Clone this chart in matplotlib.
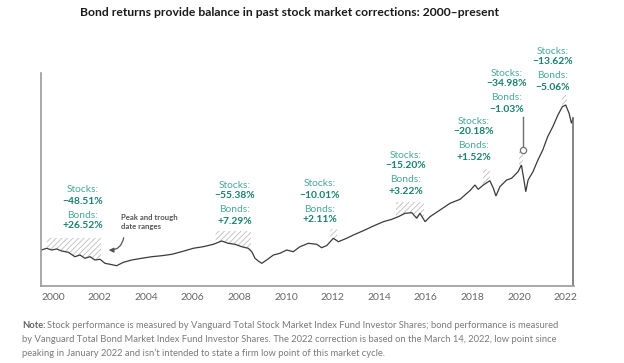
import matplotlib
matplotlib.use("Agg")
import matplotlib.pyplot as plt
import numpy as np

plt.rcParams['font.family'] = ['Lato', 'DejaVu Sans']
plt.rcParams['hatch.linewidth'] = 0.6

# ---- data (index level, arbitrary units) ----
years = [1999.50, 1999.73, 1999.94, 2000.16, 2000.37, 2000.66, 2000.94, 2001.16, 2001.37, 2001.59,
         2001.80, 2002.02, 2002.23, 2002.45, 2002.73, 2003.02, 2003.38, 2003.80, 2004.24, 2004.67,
         2005.10, 2005.52, 2006.02, 2006.45, 2006.88, 2007.24, 2007.52, 2007.81, 2008.10, 2008.38,
         2008.53, 2008.67, 2008.81, 2008.96, 2009.17, 2009.46, 2009.74, 2010.03, 2010.31, 2010.60,
         2010.96, 2011.32, 2011.53, 2011.75, 2012.03, 2012.25, 2012.60, 2012.89, 2013.32, 2013.75,
         2014.18, 2014.54, 2014.82, 2015.11, 2015.40, 2015.61, 2015.75, 2015.97, 2016.18, 2016.61,
         2017.04, 2017.47, 2017.90, 2018.11, 2018.25, 2018.47, 2018.75, 2018.90, 2019.01, 2019.18,
         2019.47, 2019.68, 2019.96, 2020.10, 2020.20, 2020.29, 2020.39, 2020.60, 2020.81, 2021.02,
         2021.23, 2021.45, 2021.67, 2021.86, 2022.00, 2022.15, 2022.25, 2022.32]
stock_index = [36.0, 37.7, 36.0, 37.0, 35.0, 33.7, 29.3, 31.0, 27.7, 29.3,
               26.0, 26.7, 22.7, 21.7, 20.3, 23.7, 26.0, 27.7, 29.3, 30.3,
               31.7, 34.3, 37.7, 39.3, 41.7, 45.0, 42.7, 41.7, 39.3, 37.7,
               34.3, 27.7, 25.0, 22.7, 26.0, 31.0, 32.7, 36.0, 34.3, 39.3,
               42.7, 41.7, 38.3, 40.5, 47.7, 44.3, 47.7, 51.0, 55.3, 60.0,
               64.3, 66.7, 69.3, 72.7, 73.3, 67.7, 72.7, 64.3, 69.3, 76.0,
               82.7, 86.7, 95.5, 101.0, 96.7, 101.0, 105.3, 97.7, 90.0, 99.3,
               106.0, 107.7, 114.3, 121.0, 107.7, 94.3, 106.0, 114.3, 126.0, 136.0,
               149.3, 159.3, 171.0, 179.3, 181.0, 172.7, 162.7, 167.7]

corr_start = [1999.74, 2006.98, 2011.90, 2014.72, 2018.45, 2020.00, 2021.85]
corr_end = [2002.06, 2008.50, 2012.20, 2015.92, 2018.75, 2020.17, 2022.06]
corr_top = [48, 55, 57, 84, 117, 134, 191]
stocks_ret = ["\u221248.51%", "\u221255.38%", "\u221210.01%", "\u221215.20%", "\u221220.18%", "\u221234.98%", "\u221213.62%"]
bonds_ret = ["+26.52%", "+7.29%", "+2.11%", "+3.22%", "+1.52%", "\u22121.03%", "\u22125.06%"]
label_x = [2001.29, 2007.81, 2011.46, 2015.15, 2018.07, 2019.48, 2021.46]
label_top = [96, 101, 102, 131, 165, 213, 235]

tick_years = list(range(2000, 2023, 2))

# ---- figure ----
W, H = 624, 363
fig = plt.figure(figsize=(W / 100, H / 100), dpi=100)
ax = fig.add_axes([41 / W, (H - 286) / H, (574 - 41) / W, (286 - 73) / H])
ax.set_xlim(1999.485, 2022.36)
ax.set_ylim(0, 213)

yrs = np.array(years)
vals = np.array(stock_index)

# hatched correction ranges
for s, e, t in zip(corr_start, corr_end, corr_top):
    xs = np.linspace(s, e, 60)
    ys = np.interp(xs, yrs, vals)
    ax.fill_between(xs, ys, t, facecolor='none', edgecolor='#bdbdbd', hatch='//////', linewidth=0)

ax.plot(yrs, vals, color='#3a3a3a', lw=0.9, solid_joinstyle='miter')

# right end vertical line
ax.plot([yrs[-1], yrs[-1]], [0, vals[-1]], color='#707070', lw=1.2)

# spines
for sp in ['top', 'right']:
    ax.spines[sp].set_visible(False)
for sp in ['left', 'bottom']:
    ax.spines[sp].set_color('#9a9a9a')
    ax.spines[sp].set_linewidth(1.2)
ax.set_yticks([])
ax.set_xticks(tick_years)
ax.set_xticklabels([str(y) for y in tick_years])
ax.tick_params(axis='x', length=0, pad=5, labelsize=7.5, labelcolor='#666666')

lab_c = '#4aa89c'
val_c = '#18806f'
for x, top, sr, br in zip(label_x, label_top, stocks_ret, bonds_ret):
    ax.text(x, top, "Stocks:", ha='center', va='center', fontsize=7.4, color=lab_c, clip_on=False)
    ax.text(x, top - 11, sr, ha='center', va='center', fontsize=7.4, color=val_c, fontweight='bold', clip_on=False)
    ax.text(x, top - 25, "Bonds:", ha='center', va='center', fontsize=7.4, color=lab_c, clip_on=False)
    ax.text(x, top - 36, br, ha='center', va='center', fontsize=7.4, color=val_c, fontweight='bold', clip_on=False)

# 2020 callout line with circle
ax.plot([2020.17, 2020.17], [136, 169], color='#707070', lw=1.0)
ax.plot([2020.17], [136], marker='o', ms=4.5, mfc='white', mec='#707070', mew=0.9)

# peak and trough note
ax.text(2002.92, 64, "Peak and trough\ndate ranges", ha='left', va='center', fontsize=5.6,
        color='#555555', fontweight='bold', linespacing=1.3)
ax.annotate("", xy=(2002.27, 36), xytext=(2003.05, 51),
            arrowprops=dict(arrowstyle='-|>', color='#555555', lw=0.9,
                            connectionstyle='arc3,rad=-0.5', mutation_scale=7))

fig.text(289 / W, 1 - 13 / H, "Bond returns provide balance in past stock market corrections: 2000\u2013present",
         ha='center', va='center', fontsize=8.7, fontweight='bold', color='#1a1a1a')

note_c = '#7a7a7a'
fs = 6.75
t1 = fig.text(22 / W, 1 - 325 / H, "Note:", ha='left', va='center', fontsize=fs, fontweight='bold', color='#666666')
fig.canvas.draw()
bb = t1.get_window_extent()
fig.text((bb.x1 + 2) / W, 1 - 325 / H,
         "Stock performance is measured by Vanguard Total Stock Market Index Fund Investor Shares; bond performance is measured",
         ha='left', va='center', fontsize=fs, color=note_c)
fig.text(22 / W, 1 - 339 / H,
         "by Vanguard Total Bond Market Index Fund Investor Shares. The 2022 correction is based on the March 14, 2022, low point since",
         ha='left', va='center', fontsize=fs, color=note_c)
fig.text(22 / W, 1 - 353 / H,
         "peaking in January 2022 and isn\u2019t intended to state a firm low point of this market cycle.",
         ha='left', va='center', fontsize=fs, color=note_c)

fig.savefig("out.png", dpi=100)
